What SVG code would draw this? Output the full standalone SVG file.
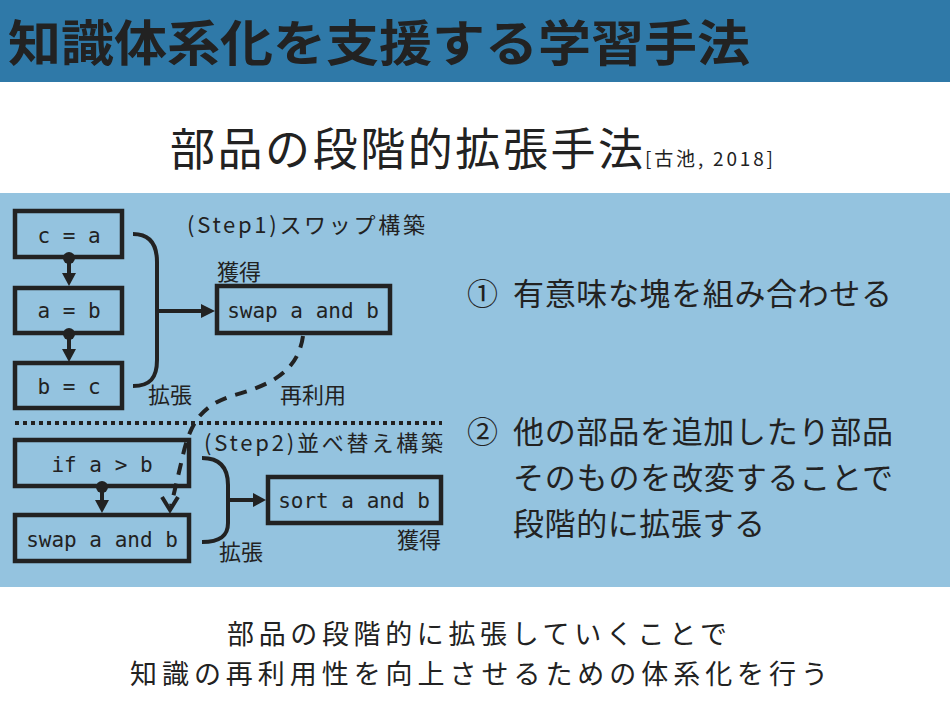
<svg xmlns="http://www.w3.org/2000/svg" width="950" height="702" viewBox="0 0 950 702">
<defs>
<style>
.jp{font-family:"Noto Sans CJK JP","Noto Sans",sans-serif;fill:#222}
.code{font-family:"DejaVu Sans Mono","Liberation Mono",monospace;font-size:21px;fill:#222}
.box{fill:none;stroke:#222;stroke-width:4.5}
.ln{fill:none;stroke:#222;stroke-width:4}
.ah{fill:#222}
.lbl{font-size:22px}
.pt{font-size:31px}
</style>
</defs>
<rect x="0" y="0" width="950" height="702" fill="#ffffff"/>
<rect x="0" y="0" width="950" height="82" fill="#2F79A8"/>
<text class="jp" x="8" y="61" font-size="49" font-weight="700" textLength="742" lengthAdjust="spacingAndGlyphs">知識体系化を支援する学習手法</text>
<text class="jp" x="170" y="166" font-size="45" textLength="473" lengthAdjust="spacing">部品の段階的拡張手法</text>
<text class="jp" x="645" y="166" font-size="19" textLength="128" lengthAdjust="spacing">[古池, 2018]</text>
<rect x="0" y="193" width="950" height="394" fill="#94C3DF"/>

<g id="connectors">
<circle cx="69" cy="258" r="6" class="ah"/>
<line x1="69" y1="258" x2="69" y2="276" class="ln"/>
<polygon points="62,273 69,286 76,273" class="ah"/>
<circle cx="69" cy="334" r="6" class="ah"/>
<line x1="69" y1="334" x2="69" y2="352" class="ln"/>
<polygon points="62,349 69,362 76,349" class="ah"/>
<path d="M133,234 C150,234 157,245 157,262 L157,360 C157,378 150,386 133,386" class="ln"/>
<line x1="157" y1="311" x2="202" y2="311" class="ln"/>
<polygon points="201,304 215,311 201,318" class="ah"/>
<path d="M303,336 C298,372 270,385 235,395 C200,405 190,425 183,455 L171,506" class="ln" stroke-dasharray="12 9"/>
<polyline points="162,497 170,510 178,497" class="ln"/>
<line x1="15" y1="423" x2="442" y2="423" stroke="#222" stroke-width="4" stroke-dasharray="4 4"/>
<circle cx="102" cy="487" r="6" class="ah"/>
<line x1="102" y1="487" x2="102" y2="503" class="ln"/>
<polygon points="95,500 102,513 109,500" class="ah"/>
<path d="M202,458 C220,458 228,468 228,485 L228,523 C228,536 220,542 202,542" class="ln"/>
<line x1="228" y1="500" x2="255" y2="500" class="ln"/>
<polygon points="253,493 266,500 253,507" class="ah"/>
</g>

<g id="n-c-eq-a"><rect x="15" y="211" width="107" height="46" class="box"/><text class="code" x="69" y="243" text-anchor="middle">c = a</text></g>
<g id="n-a-eq-b"><rect x="15" y="288" width="107" height="45" class="box"/><text class="code" x="69" y="318" text-anchor="middle">a = b</text></g>
<g id="n-b-eq-c"><rect x="15" y="363" width="107" height="45" class="box"/><text class="code" x="69" y="394" text-anchor="middle">b = c</text></g>
<g id="n-swap1"><rect x="217" y="286" width="173" height="47" class="box"/><text class="code" x="303" y="318" text-anchor="middle">swap a and b</text></g>
<g id="n-if"><rect x="15" y="440" width="174" height="46" class="box"/><text class="code" x="102" y="472" text-anchor="middle">if a &gt; b</text></g>
<g id="n-swap2"><rect x="15" y="515" width="174" height="46" class="box"/><text class="code" x="102" y="547" text-anchor="middle">swap a and b</text></g>
<g id="n-sort"><rect x="268" y="477" width="173" height="46" class="box"/><text class="code" x="354" y="508" text-anchor="middle">sort a and b</text></g>

<g id="labels">
<text class="jp lbl" x="187" y="233" textLength="238" lengthAdjust="spacing">(Step1)スワップ構築</text>
<text class="jp lbl" x="217" y="280">獲得</text>
<text class="jp lbl" x="148" y="403">拡張</text>
<text class="jp lbl" x="280" y="403">再利用</text>
<text class="jp lbl" x="204" y="451" textLength="239" lengthAdjust="spacing">(Step2)並べ替え構築</text>
<text class="jp lbl" x="397" y="548">獲得</text>
<text class="jp lbl" x="219" y="560">拡張</text>
</g>

<g id="points">
<text class="jp pt" x="467" y="305">①</text>
<text class="jp pt" x="513" y="305" textLength="379" lengthAdjust="spacing">有意味な塊を組み合わせる</text>
<text class="jp pt" x="467" y="443">②</text>
<text class="jp pt" x="513" y="443" textLength="380" lengthAdjust="spacing">他の部品を追加したり部品</text>
<text class="jp pt" x="513" y="489" textLength="380" lengthAdjust="spacing">そのものを改変することで</text>
<text class="jp pt" x="513" y="535" textLength="252" lengthAdjust="spacing">段階的に拡張する</text>
</g>

<g id="summary">
<text class="jp" x="227" y="644" font-size="27" textLength="500" lengthAdjust="spacing">部品の段階的に拡張していくことで</text>
<text class="jp" x="130" y="684" font-size="27" textLength="698" lengthAdjust="spacing">知識の再利用性を向上させるための体系化を行う</text>
</g>
</svg>
